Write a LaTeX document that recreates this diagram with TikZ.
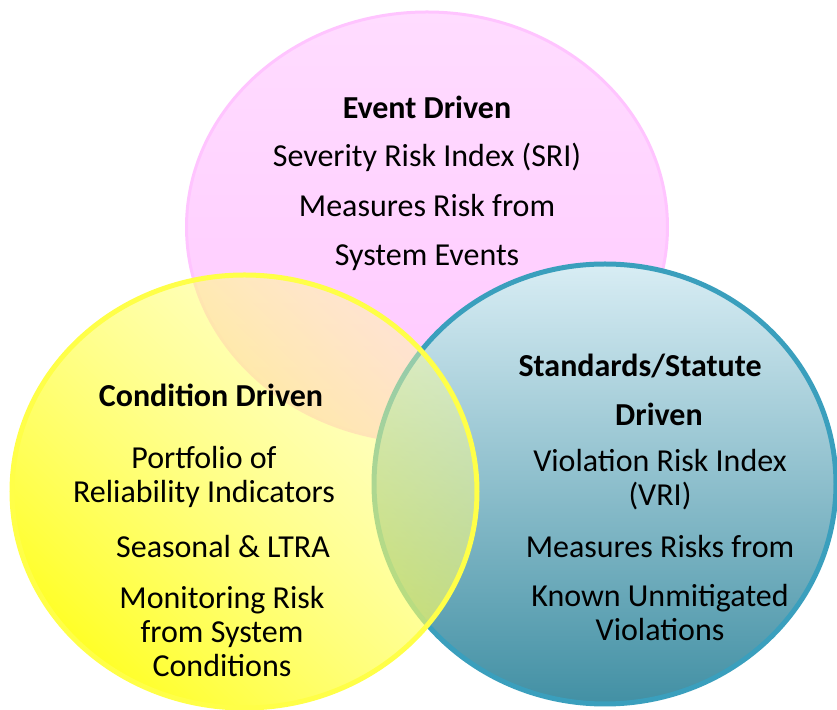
\documentclass[tikz,border=0pt]{standalone}
\usepackage{fontspec}
\setmainfont{Carlito}
\usetikzlibrary{shapes.geometric,fadings}
\definecolor{pinktop}{HTML}{FFDCFF}
\definecolor{pinkbot}{HTML}{FFC8FF}
\definecolor{pinkline}{HTML}{FFC4FF}
\definecolor{bluetop}{HTML}{D8EDF4}
\definecolor{bluemid}{HTML}{9CD0E0}
\definecolor{bluebot}{HTML}{4290A4}
\definecolor{blueline}{HTML}{3A9FBD}
\definecolor{yellowtop}{HTML}{FFFF9A}
\definecolor{yellowbot}{HTML}{FFFF10}
\definecolor{yellowline}{HTML}{FFFF48}
\tikzstyle{set} = [ellipse, inner sep=0pt]
\tikzstyle{settext} = [font=\fontsize{16}{17}\selectfont, align=center, inner sep=0pt]
\tikzstyle{sethead} = [settext, font=\fontsize{16}{17}\selectfont\bfseries]
\tikzfading[name=yellowfade, top color=transparent!55, bottom color=transparent!10]

\begin{document}
\begin{tikzpicture}[x=0.5pt,y=-0.5pt]
        \useasboundingbox (0,0) rectangle (837,710);
        \node[set, minimum width=240.5pt, minimum height=215pt, draw=pinkline, line width=1.5pt, top color=pinktop, bottom color=pinkbot] (event) at (427,227) {};
        \node[set, minimum width=231pt, minimum height=220pt, draw=blueline, line width=2.5pt, top color=bluetop, middle color=bluemid, bottom color=bluebot] (standards) at (605,484) {};
        \node[set, minimum width=232.5pt, minimum height=216.5pt, draw=yellowline, line width=2.5pt, preaction={top color=yellowtop, bottom color=yellowbot, shading angle=-45, path fading=yellowfade, fading angle=-45}] (condition) at (244.5,491.5) {};
        % event driven
        \node[sethead] (eventhead) at (427,107) {Event Driven};
        \node[settext] (sri) [below of=eventhead, node distance=25pt] {Severity Risk Index (SRI)};
        \node[settext] (eventrisk) [below of=sri, node distance=24.5pt] {Measures Risk from};
        \node[settext] (events) [below of=eventrisk, node distance=26pt] {System Events};
        % condition driven
        \node[sethead] (condhead) at (211,395) {Condition Driven};
        \node[settext] (portfolio) [below of=condhead, node distance=41pt, xshift=-3.5pt] {Portfolio of\\Reliability Indicators};
        \node[settext] (ltra) [below of=portfolio, node distance=35pt, xshift=9.5pt] {Seasonal \& LTRA};
        \node[settext] (monitoring) [below of=ltra, node distance=42.5pt, xshift=-0.5pt] {Monitoring Risk\\from System\\Conditions};
        % standards/statute driven
        \node[sethead] (stdhead) at (640,366) {Standards/Statute};
        \node[sethead] (stddriven) [below of=stdhead, node distance=24pt, xshift=9.5pt] {Driven};
        \node[settext] (vri) [below of=stddriven, node distance=33pt, xshift=0.5pt] {Violation Risk Index\\(VRI)};
        \node[settext] (stdrisk) [below of=vri, node distance=33.5pt] {Measures Risks from};
        \node[settext] (violations) [below of=stdrisk, node distance=33pt] {Known Unmitigated\\Violations};
    \end{tikzpicture}
\end{document}
